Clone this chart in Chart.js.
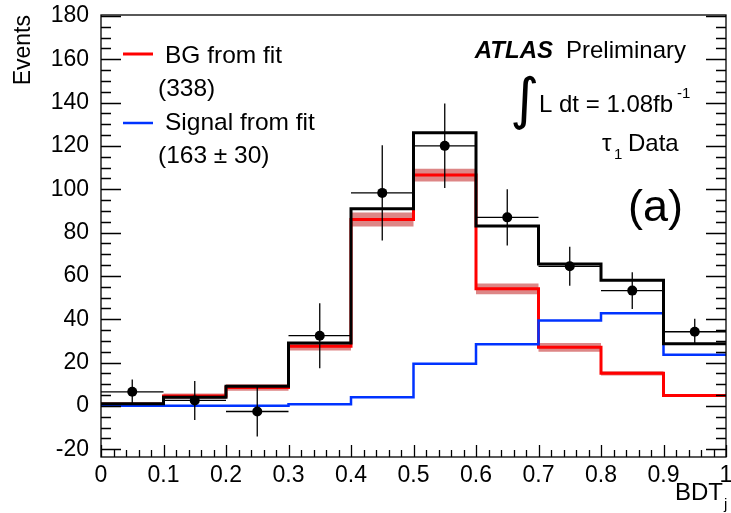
<!DOCTYPE html>
<html>
<head>
<meta charset="utf-8">
<script src="https://cdn.jsdelivr.net/npm/chart.js@4.4.0/dist/chart.umd.min.js"></script>
<style>
  html, body { margin: 0; padding: 0; background: #fff; }
</style>
</head>
<body>
<canvas id="chart" width="731" height="513"></canvas>
<script>
// histogram binning (BDT_j) and fitted templates
const binEdges = [0, 0.1, 0.2, 0.3, 0.4, 0.5, 0.6, 0.7, 0.8, 0.9, 1.0];
const totalFit = [1, 4, 9, 29, 91, 126, 83, 65.5, 58, 28.7];
const bgFit = [0.8, 4.5, 8.5, 27.5, 86, 106.5, 54, 27, 15, 4.8];
const bgErr = [0.8, 1.2, 1.5, 2, 3.2, 2.9, 2.5, 2, 1, 0.5];
const signalFit = [0, 0, 0, 0.8, 4, 19.4, 28.4, 39.4, 42.7, 23.6];

// data points
const dataX = [0.05, 0.15, 0.25, 0.35, 0.45, 0.55, 0.65, 0.75, 0.85, 0.95];
const dataY = [6.5, 2.5, -2.6, 32.4, 98.3, 120, 87, 64.4, 53.2, 34.2];
const dataErr = [5.7, 9, 11.5, 15, 22, 19.5, 13, 9, 8.5, 6];
const binHalf = 0.05;

const xTickValues = [0, 0.1, 0.2, 0.3, 0.4, 0.5, 0.6, 0.7, 0.8, 0.9, 1];
const yTickValues = [-20, 0, 20, 40, 60, 80, 100, 120, 140, 160, 180];

const FONT = '"Liberation Sans", Arial, Helvetica, sans-serif';
Chart.defaults.font.family = FONT;
Chart.defaults.color = '#000';

// histogram -> step points (last value repeated at the right edge)
function stepPoints(vals) {
    const pts = vals.map((v, i) => ({ x: binEdges[i], y: v }));
    pts.push({ x: binEdges[binEdges.length - 1], y: vals[vals.length - 1] });
    return pts;
}

const DATA_INDEX = 0;

const errorBars = {
    id: 'errorBars',
    beforeDatasetDraw(chart, args) {
        if (args.index !== DATA_INDEX) return;
        const { ctx, scales: { x, y } } = chart;
        ctx.save();
        ctx.strokeStyle = '#000';
        ctx.lineWidth = 1.3;
        ctx.beginPath();
        dataX.forEach((xv, i) => {
            const px = x.getPixelForValue(xv);
            const py = y.getPixelForValue(dataY[i]);
            ctx.moveTo(x.getPixelForValue(xv - binHalf), py);
            ctx.lineTo(x.getPixelForValue(xv + binHalf), py);
            ctx.moveTo(px, y.getPixelForValue(dataY[i] + dataErr[i]));
            ctx.lineTo(px, y.getPixelForValue(dataY[i] - dataErr[i]));
        });
        ctx.stroke();
        ctx.restore();
    }
};

// ROOT style frame with inward ticks
const axisTicks = {
    id: 'axisTicks',
    afterDatasetsDraw(chart) {
        const { ctx, chartArea: a, scales: { x, y } } = chart;
        ctx.save();
        ctx.strokeStyle = '#000';
        ctx.lineWidth = 1.3;
        ctx.strokeRect(a.left, a.top, a.right - a.left, a.bottom - a.top);
        ctx.beginPath();
        for (let i = 0; i <= 50; i++) {
            const px = Math.round(x.getPixelForValue(i / 50)) + 0.5;
            const len = i % 5 === 0 ? 12 : 7;
            ctx.moveTo(px, a.bottom);
            ctx.lineTo(px, a.bottom - len);
        }
        for (let v = -20; v <= 180; v += 5) {
            const py = Math.round(y.getPixelForValue(v)) + 0.5;
            const len = v % 20 === 0 ? 20 : 10;
            ctx.moveTo(a.left, py);
            ctx.lineTo(a.left + len, py);
            ctx.moveTo(a.right, py);
            ctx.lineTo(a.right - len, py);
        }
        ctx.stroke();
        ctx.restore();
    }
};

const labels = {
    id: 'labels',
    afterDraw(chart) {
        const ctx = chart.ctx;
        ctx.save();
        ctx.fillStyle = '#000';
        ctx.textBaseline = 'alphabetic';

        // y title
        ctx.save();
        ctx.font = '23px ' + FONT;
        ctx.translate(30, 15);
        ctx.rotate(-Math.PI / 2);
        ctx.textAlign = 'right';
        ctx.fillText('Events', 0, 0);
        ctx.restore();

        // x title
        ctx.font = '24px ' + FONT;
        ctx.fillText('BDT', 675, 500);
        ctx.font = '15px ' + FONT;
        ctx.fillText('j', 724, 509);

        // legend
        ctx.lineWidth = 3;
        ctx.strokeStyle = '#ff0000';
        ctx.beginPath(); ctx.moveTo(123, 54); ctx.lineTo(153, 54); ctx.stroke();
        ctx.strokeStyle = '#0033ff';
        ctx.lineWidth = 2.5;
        ctx.beginPath(); ctx.moveTo(123, 123); ctx.lineTo(153, 123); ctx.stroke();
        ctx.font = '24.5px ' + FONT;
        ctx.fillText('BG from fit', 165, 63);
        ctx.fillText('(338)', 158, 96);
        ctx.fillText('Signal from fit', 165, 130);
        ctx.fillText('(163 \u00b1 30)', 158, 163);

        // ATLAS label
        ctx.textAlign = 'right';
        ctx.font = 'italic bold 24px ' + FONT;
        ctx.fillText('ATLAS', 553, 58);
        ctx.font = '24px ' + FONT;
        ctx.fillText('Preliminary', 686, 58);
        ctx.textAlign = 'left';

        ctx.font = '56px "DejaVu Sans"';
        ctx.fillText('\u222b', 510, 118);
        ctx.font = '24px ' + FONT;
        ctx.fillText('L dt = 1.08fb', 539, 112);
        ctx.font = '15px ' + FONT;
        ctx.fillText('-1', 677, 98);

        ctx.font = '24px ' + FONT;
        ctx.fillText('\u03c4', 602, 151);
        ctx.fillText('Data', 628, 151);
        ctx.font = '15px ' + FONT;
        ctx.fillText('1', 614, 159);

        ctx.font = '45px ' + FONT;
        ctx.fillText('(a)', 628, 221);
        ctx.restore();
    }
};

const lineBase = { pointRadius: 0, tension: 0, stepped: 'before', fill: false };

new Chart(document.getElementById('chart').getContext('2d'), {
    type: 'line',
    data: {
        datasets: [
            {
                label: 'Data',
                data: dataX.map((x, i) => ({ x: x, y: dataY[i] })),
                showLine: false,
                pointRadius: 5,
                pointHoverRadius: 5,
                pointBackgroundColor: '#000',
                pointBorderColor: '#000',
                pointBorderWidth: 0,
                order: 0
            },
            { ...lineBase, label: 'Total', data: stepPoints(totalFit), borderColor: '#000', borderWidth: 3, order: 1 },
            { ...lineBase, label: 'Signal from fit', data: stepPoints(signalFit), borderColor: '#0033ff', borderWidth: 2.5, order: 2 },
            { ...lineBase, label: 'BG from fit', data: stepPoints(bgFit), borderColor: '#ff0000', borderWidth: 3, order: 3 },
            { ...lineBase, label: 'BG low', data: stepPoints(bgFit.map((v, i) => v - bgErr[i])), borderWidth: 0, borderColor: 'rgba(0,0,0,0)', order: 4 },
            { ...lineBase, label: 'BG high', data: stepPoints(bgFit.map((v, i) => v + bgErr[i])), borderWidth: 0, borderColor: 'rgba(0,0,0,0)',
              fill: '-1', backgroundColor: 'rgba(200,60,60,0.62)', order: 5 }
        ]
    },
    options: {
        responsive: false,
        animation: false,
        layout: { padding: { top: 15, right: 3, left: 0, bottom: 0 } },
        plugins: { legend: { display: false }, tooltip: { enabled: false } },
        scales: {
            x: {
                type: 'linear', min: 0, max: 1,
                grid: { display: false }, border: { display: false },
                afterBuildTicks: s => { s.ticks = xTickValues.map(v => ({ value: v })); },
                afterFit: s => { s.height = 56; s.paddingLeft = 0; s.paddingRight = 0; },
                ticks: { font: { size: 23 }, padding: -3, maxRotation: 0, autoSkip: false,
                         callback: v => String(+v.toFixed(1)) }
            },
            y: {
                type: 'linear', min: -23.6, max: 180.4,
                grid: { display: false }, border: { display: false },
                afterBuildTicks: s => { s.ticks = yTickValues.map(v => ({ value: v })); },
                afterFit: s => { s.width = 101; s.paddingTop = 0; s.paddingBottom = 0; },
                ticks: { font: { size: 23 }, padding: 4, autoSkip: false,
                         callback: v => String(v) }
            }
        }
    },
    plugins: [errorBars, axisTicks, labels]
});
</script>
</body>
</html>
